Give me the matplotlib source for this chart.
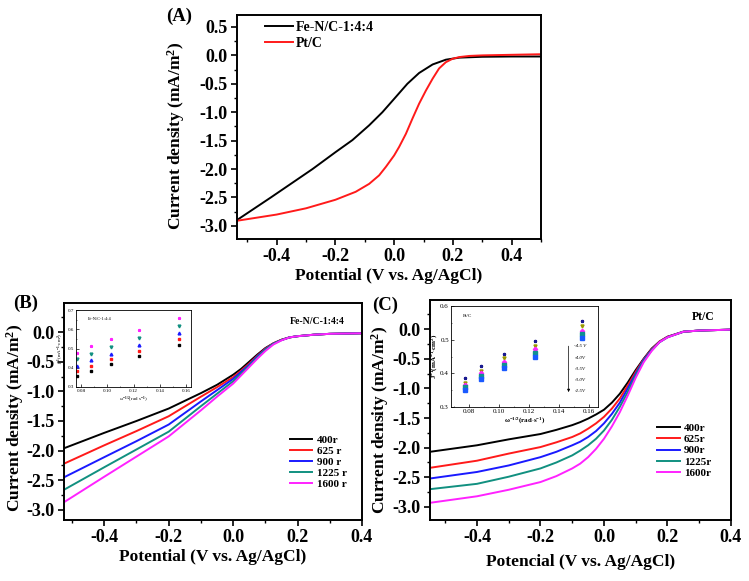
import matplotlib
matplotlib.use("Agg")
import matplotlib.pyplot as plt
from matplotlib.ticker import MultipleLocator, AutoMinorLocator

plt.rcParams['font.family'] = ['Liberation Serif', 'DejaVu Serif']
plt.rcParams['font.weight'] = 'bold'
plt.rcParams['axes.labelweight'] = 'bold'
plt.rcParams['axes.unicode_minus'] = False
plt.rcParams['mathtext.fontset'] = 'custom'
plt.rcParams['mathtext.rm'] = 'Liberation Serif:bold'
plt.rcParams['mathtext.it'] = 'Liberation Serif:bold:italic'
plt.rcParams['mathtext.bf'] = 'Liberation Serif:bold'

# ---------------- Data ----------------
# Panel A
a_x_fe = [-0.536, -0.42, -0.278, -0.199, -0.142, -0.085, -0.040, 0.006, 0.045, 0.085, 0.131, 0.176,
          0.222, 0.30, 0.40, 0.50]
a_y_fe = [-2.90, -2.50, -2.00, -1.70, -1.49, -1.23, -1.00, -0.73, -0.50, -0.31, -0.16, -0.076,
          -0.04, -0.025, -0.02, -0.02]
a_x_pt = [-0.536, -0.40, -0.30, -0.20, -0.131, -0.085, -0.051, -0.028, 0.0, 0.017, 0.040, 0.0625,
          0.085, 0.108, 0.131, 0.153, 0.176, 0.199, 0.222, 0.256, 0.301, 0.40, 0.50]
a_y_pt = [-2.91, -2.80, -2.69, -2.54, -2.40, -2.26, -2.11, -1.96, -1.76, -1.61, -1.38, -1.11,
          -0.85, -0.62, -0.41, -0.23, -0.12, -0.06, -0.03, -0.01, 0.0, 0.01, 0.02]
a_labels = ['Fe-N/C-1:4:4', 'Pt/C']

# Panel B
b_x = [-0.525, -0.4, -0.3, -0.2, -0.1, -0.05, 0.0, 0.025, 0.05, 0.075, 0.1, 0.125, 0.15, 0.175, 0.2, 0.25, 0.3, 0.4]
b_400 = [-1.96, -1.70, -1.50, -1.29, -1.03, -0.89, -0.72, -0.62, -0.50, -0.38, -0.27, -0.19, -0.13, -0.09, -0.07, -0.045, -0.03, -0.02]
b_625 = [-2.22, -1.91, -1.67, -1.42, -1.09, -0.93, -0.76, -0.65, -0.53, -0.40, -0.28, -0.19, -0.13, -0.09, -0.07, -0.045, -0.03, -0.02]
b_900 = [-2.45, -2.11, -1.84, -1.56, -1.17, -0.98, -0.79, -0.67, -0.55, -0.41, -0.29, -0.195, -0.135, -0.09, -0.07, -0.045, -0.03, -0.02]
b_1225 = [-2.66, -2.28, -1.98, -1.68, -1.25, -1.04, -0.83, -0.70, -0.57, -0.43, -0.30, -0.20, -0.135, -0.09, -0.07, -0.045, -0.03, -0.02]
b_1600 = [-2.87, -2.44, -2.10, -1.76, -1.32, -1.09, -0.87, -0.73, -0.59, -0.45, -0.32, -0.21, -0.14, -0.09, -0.07, -0.045, -0.03, -0.02]
b_labels = ['400r', '625 r', '900 r', '1225 r', '1600 r']

# Panel C
c_x = [-0.548, -0.4, -0.3, -0.2, -0.15, -0.1, -0.075, -0.05, -0.025, 0.0, 0.025, 0.05, 0.075, 0.1,
       0.125, 0.15, 0.175, 0.2, 0.25, 0.3, 0.4]
c_400 = [-2.07, -1.96, -1.86, -1.77, -1.70, -1.62, -1.57, -1.51, -1.44, -1.36, -1.24, -1.09, -0.90, -0.69,
         -0.50, -0.33, -0.21, -0.13, -0.045, -0.025, -0.01]
c_625 = [-2.34, -2.22, -2.10, -1.99, -1.91, -1.82, -1.76, -1.68, -1.59, -1.48, -1.34, -1.17, -0.95, -0.72,
         -0.51, -0.34, -0.21, -0.13, -0.045, -0.025, -0.01]
c_900 = [-2.52, -2.41, -2.30, -2.16, -2.07, -1.96, -1.90, -1.82, -1.72, -1.59, -1.43, -1.24, -1.00, -0.75,
         -0.52, -0.35, -0.22, -0.135, -0.045, -0.025, -0.01]
c_1225 = [-2.70, -2.61, -2.49, -2.35, -2.25, -2.13, -2.05, -1.96, -1.85, -1.71, -1.53, -1.31, -1.06, -0.78,
          -0.54, -0.36, -0.22, -0.14, -0.045, -0.025, -0.01]
c_1600 = [-2.93, -2.82, -2.71, -2.58, -2.48, -2.35, -2.27, -2.16, -2.02, -1.85, -1.64, -1.40, -1.12, -0.82,
          -0.56, -0.37, -0.22, -0.14, -0.045, -0.025, -0.01]
c_labels = ['400r', '625r', '900r', '1225r', '1600r']

series_colors = ['black', '#ff1a1a', '#1a1aff', '#119080', '#ff22ff']

# Inset B (Koutecky-Levich)
kb_x = [0.077, 0.088, 0.103, 0.124, 0.155]
kb_y = [
    [0.478, 0.514, 0.548, 0.595, 0.660],
    [0.443, 0.474, 0.507, 0.553, 0.615],
    [0.409, 0.440, 0.474, 0.517, 0.581],
    [0.383, 0.410, 0.445, 0.488, 0.548],
    [0.359, 0.383, 0.417, 0.460, 0.517],
]
kb_colors = ['#ff22ff', '#119080', '#1a1aff', '#ff1a1a', 'black']
kb_markers = ['*', 'v', '^', 's', 's']

# Inset C
kc_x = [0.077, 0.088, 0.103, 0.124, 0.155]
kc_y = [
    [0.385, 0.423, 0.457, 0.496, 0.556],
    [0.372, 0.408, 0.445, 0.482, 0.540],
    [0.365, 0.400, 0.433, 0.471, 0.526],
    [0.358, 0.392, 0.425, 0.460, 0.516],
    [0.351, 0.384, 0.417, 0.450, 0.506],
]
kc_colors = ['#1a1a90', '#999900', '#ff22ff', '#119090', '#1a5aff']
kc_markers = ['*', 'v', 'D', 's', 's']
kc_labels = ['-4.5 V', '-4.0V', '-3.5V', '-3.0V', '-2.5V']

W, H = 749, 581
fig = plt.figure(figsize=(W / 100, H / 100), dpi=100)


def add_ax(l, r, t, b):
    return fig.add_axes([l / W, (H - b) / H, (r - l) / W, (b - t) / H])


def fxy(px, py):
    return (px / W, 1 - py / H)


def style_main(ax, fs=13):
    for s in ax.spines.values():
        s.set_linewidth(1.4)
    ax.tick_params(which='major', direction='out', length=4, width=1.2, labelsize=fs, pad=2.5)
    ax.tick_params(which='minor', direction='out', length=2.5, width=1.0)
    ax.xaxis.set_minor_locator(AutoMinorLocator(2))
    ax.yaxis.set_minor_locator(AutoMinorLocator(2))
    for lab in ax.get_xticklabels() + ax.get_yticklabels():
        lab.set_fontweight('bold')


LW = 1.4

# ---- Panel A ----
axA = add_ax(237, 541, 15, 239)
axA.plot(a_x_fe, a_y_fe, color='black', lw=LW, label=a_labels[0])
axA.plot(a_x_pt, a_y_pt, color='#ff1a1a', lw=LW, label=a_labels[1])
axA.set_xlim(-0.535, 0.5)
axA.set_ylim(-3.23, 0.71)
axA.xaxis.set_major_locator(MultipleLocator(0.2))
axA.yaxis.set_major_locator(MultipleLocator(0.5))
style_main(axA)
axA.set_xlabel('Potential (V vs. Ag/AgCl)', fontsize=12.5, fontweight='bold')
axA.set_ylabel('Current density (mA/m$^2$)', fontsize=12.5, fontweight='bold')
axA.xaxis.set_label_coords(0.5, -0.13)
axA.yaxis.set_label_coords(-0.165, 0.46)
axA.legend(loc='upper left', frameon=False, prop={'weight': 'bold', 'size': 10},
           handlelength=2.0, handletextpad=0.25, borderpad=0, borderaxespad=0, labelspacing=0.2,
           bbox_to_anchor=fxy(265, 21), bbox_transform=fig.transFigure)
fig.text(*fxy(179, 16), '(A)', fontsize=13.5, fontweight='bold', ha='center', va='center')

# ---- Panel B ----
axB = add_ax(64, 362, 303, 520)
for yv, c, lab in zip([b_400, b_625, b_900, b_1225, b_1600], series_colors, b_labels):
    axB.plot(b_x, yv, color=c, lw=LW, label=lab)
axB.set_xlim(-0.525, 0.4)
axB.set_ylim(-3.17, 0.49)
axB.xaxis.set_major_locator(MultipleLocator(0.2))
axB.yaxis.set_major_locator(MultipleLocator(0.5))
style_main(axB)
axB.set_xlabel('Potential (V vs. Ag/AgCl)', fontsize=12.5, fontweight='bold')
axB.set_ylabel('Current density (mA/m$^2$)', fontsize=12.5, fontweight='bold')
axB.xaxis.set_label_coords(0.5, -0.135)
axB.yaxis.set_label_coords(-0.128, 0.47)
axB.legend(loc='upper left', frameon=False, prop={'weight': 'bold', 'size': 8},
           handlelength=2.0, handletextpad=0.4, borderpad=0, borderaxespad=0, labelspacing=0.12,
           bbox_to_anchor=fxy(290, 435), bbox_transform=fig.transFigure)
fig.text(*fxy(290, 322), 'Fe-N/C-1:4:4', fontsize=7, fontweight='bold', ha='left', va='center')
fig.text(*fxy(26, 303), '(B)', fontsize=13.5, fontweight='bold', ha='center', va='center')

# ---- Panel C ----
axC = add_ax(430, 731, 300, 520)
for yv, c, lab in zip([c_400, c_625, c_900, c_1225, c_1600], series_colors, c_labels):
    axC.plot(c_x, yv, color=c, lw=LW, label=lab)
axC.set_xlim(-0.548, 0.4)
axC.set_ylim(-3.22, 0.49)
axC.xaxis.set_major_locator(MultipleLocator(0.2))
axC.yaxis.set_major_locator(MultipleLocator(0.5))
style_main(axC)
axC.set_xlabel('Potencial (V vs. Ag/AgCl)', fontsize=12.5, fontweight='bold')
axC.set_ylabel('Current density (mA/m$^2$)', fontsize=12.5, fontweight='bold')
axC.xaxis.set_label_coords(0.5, -0.155)
axC.yaxis.set_label_coords(-0.128, 0.455)
axC.legend(loc='upper left', frameon=False, prop={'weight': 'bold', 'size': 8},
           handlelength=2.1, handletextpad=0.3, borderpad=0, borderaxespad=0, labelspacing=0.14,
           bbox_to_anchor=fxy(657, 423), bbox_transform=fig.transFigure)
fig.text(*fxy(715, 317), 'Pt/C', fontsize=8.5, fontweight='bold', ha='right', va='center')
fig.text(*fxy(385, 305), '(C)', fontsize=13.5, fontweight='bold', ha='center', va='center')


def style_inset(ax, fs):
    for s in ax.spines.values():
        s.set_linewidth(0.6)
    ax.tick_params(which='major', direction='in', length=2, width=0.5, labelsize=fs, pad=1.5)
    ax.tick_params(which='minor', direction='in', length=1, width=0.4)
    ax.xaxis.set_minor_locator(AutoMinorLocator(2))
    ax.yaxis.set_minor_locator(AutoMinorLocator(2))
    for lab in ax.get_xticklabels() + ax.get_yticklabels():
        lab.set_fontweight('normal')


# ---- Inset B ----
inB = add_ax(76, 191, 310, 387)
for yv, c, m in zip(kb_y, kb_colors, kb_markers):
    inB.plot(kb_x, yv, linestyle='none', marker=m, color=c, markersize=2.0)
inB.set_xlim(0.0762, 0.1638)
inB.set_ylim(0.3, 0.7)
inB.xaxis.set_major_locator(MultipleLocator(0.02))
inB.yaxis.set_major_locator(MultipleLocator(0.1))
style_inset(inB, 3.6)
inB.set_xlabel('ω$^{-1/2}$(rad s$^{-1}$)', fontsize=3.6, labelpad=1, fontweight='normal')
inB.set_ylabel('j$^{-1}$(mA$^{-1}$$\\cdot$cm$^{2}$)', fontsize=3.6, labelpad=1, fontweight='normal')
inB.text(0.1, 0.88, 'Fe-N/C-1:4:4', transform=inB.transAxes, fontsize=3.2, va='center',
         fontweight='normal')

# ---- Inset C ----
inC = add_ax(451, 598, 306, 407)
for yv, c, m in zip(kc_y, kc_colors, kc_markers):
    inC.plot(kc_x, yv, linestyle='none', marker=m, color=c, markersize=2.2)
inC.set_xlim(0.068, 0.166)
inC.set_ylim(0.3, 0.6)
inC.xaxis.set_major_locator(MultipleLocator(0.02))
inC.yaxis.set_major_locator(MultipleLocator(0.1))
style_inset(inC, 5)
inC.set_xlabel('ω$^{-1/2}$(rad$\\cdot$s$^{-1}$)', fontsize=5, labelpad=1)
inC.set_ylabel('J$^{-1}$(mA$^{-1}$$\\cdot$cm$^{2}$)', fontsize=5, labelpad=1)
inC.text(0.08, 0.9, 'Pt/C', transform=inC.transAxes, fontsize=3.8, va='center', fontweight='normal')
for i, lab in enumerate(kc_labels):
    inC.text(0.84, 0.6 - i * 0.11, lab, transform=inC.transAxes, fontsize=3.6,
             fontstyle='italic', fontweight='normal', va='center')
inC.annotate('', xy=(0.8, 0.12), xytext=(0.8, 0.63), xycoords='axes fraction',
             arrowprops=dict(arrowstyle='-|>', lw=0.5, color='black', mutation_scale=4))

fig.savefig('out.png', dpi=100)
